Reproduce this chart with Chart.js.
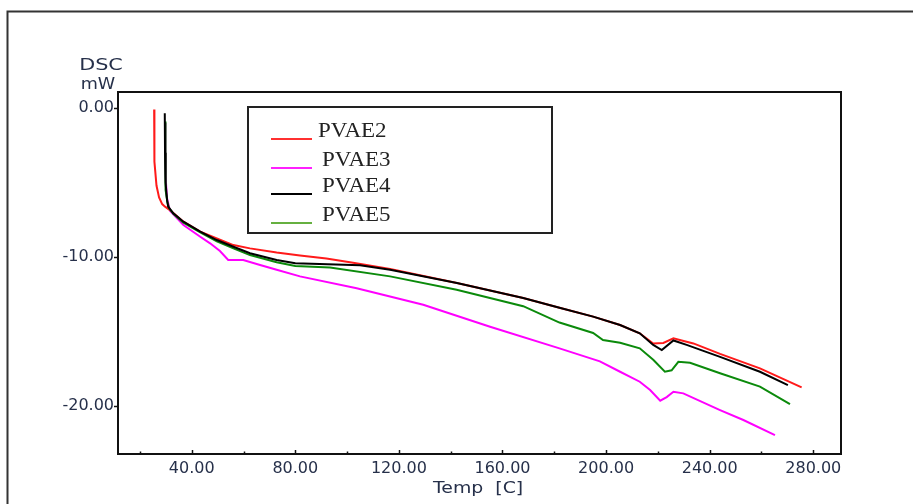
<!DOCTYPE html>
<html>
<head>
<meta charset="utf-8">
<title>DSC PVAE</title>
<script src="https://cdn.jsdelivr.net/npm/chart.js@4.4.1/dist/chart.umd.min.js"></script>
<style>
  html, body { margin: 0; padding: 0; background: #fff; }
  #wrap { width: 913px; height: 504px; position: relative; }
</style>
</head>
<body>
<div id="wrap"><canvas id="dsc" width="913" height="504"></canvas></div>
<script>
// ---------- Data ----------
const seriesNames = ["PVAE2", "PVAE3", "PVAE4", "PVAE5"];

const pvae2Temp = [25.5, 25.6, 26.4, 27.4, 28.6, 29.7, 31.6, 36.8, 43.3, 49.7, 56.1, 62.5, 72.8, 81.8, 92, 102.3, 116.6, 142.4, 168, 182, 195, 205.4, 213, 218.2, 222.1, 226, 229.2, 233.7, 244, 259.4, 275.5];
const pvae2Dsc = [-0.1, -3.6, -5.2, -6.0, -6.45, -6.62, -6.85, -7.63, -8.3, -8.75, -9.2, -9.42, -9.7, -9.9, -10.1, -10.38, -10.8, -11.75, -12.75, -13.4, -14.0, -14.56, -15.12, -15.8, -15.77, -15.46, -15.6, -15.8, -16.5, -17.47, -18.75];

const pvae3Temp = [29.7, 29.9, 30.4, 31.6, 36.8, 43.3, 47.1, 50.9, 54.1, 59.9, 66.4, 72.8, 81.8, 103.7, 129.4, 155.2, 182, 197.6, 205.4, 213, 217, 220.9, 223.4, 226, 229.8, 244, 253, 265.2];
const pvae3Dsc = [-1.0, -4.5, -6.0, -6.9, -7.85, -8.64, -9.08, -9.6, -10.2, -10.2, -10.54, -10.85, -11.3, -12.1, -13.2, -14.68, -16.13, -17.0, -17.7, -18.37, -18.93, -19.64, -19.4, -19.04, -19.15, -20.27, -20.94, -21.95];

const pvae4Temp = [29.6, 29.7, 29.9, 30.5, 30.9, 32.9, 36.8, 43.3, 49.7, 56.1, 62.5, 72.8, 80, 105, 116.6, 142.4, 168, 182, 195, 205.4, 213, 218.2, 221.5, 226, 231.1, 244, 259.4, 270.2];
const pvae4Dsc = [-0.35, -3.0, -5.0, -6.2, -6.62, -7.07, -7.63, -8.3, -8.86, -9.31, -9.75, -10.2, -10.42, -10.55, -10.85, -11.75, -12.75, -13.4, -14.0, -14.56, -15.12, -15.9, -16.24, -15.6, -15.9, -16.7, -17.7, -18.6];

const pvae5Temp = [29.7, 29.8, 30.0, 30.6, 31.2, 32.9, 36.8, 43.3, 49.7, 56.1, 62.5, 72.8, 80, 93.4, 116.6, 142.3, 168, 182, 195, 198.8, 205.4, 213, 218.2, 222.7, 225.3, 227.9, 232.4, 244, 259.4, 271];
const pvae5Dsc = [-0.9, -3.5, -5.5, -6.3, -6.7, -7.1, -7.7, -8.35, -8.95, -9.42, -9.87, -10.35, -10.6, -10.7, -11.3, -12.2, -13.3, -14.4, -15.1, -15.57, -15.75, -16.13, -16.9, -17.7, -17.6, -17.03, -17.1, -17.8, -18.7, -19.87];

const lineColors = ["#ff1a1a", "#ff00ff", "#000000", "#0b8a0b"];
const legendColors = ["#ff3030", "#ff20ff", "#000000", "#66b040"];

const xTickValues = [40, 80, 120, 160, 200, 240, 280];
const xMinorTicks = [20, 60, 100, 140, 180, 220, 260];
const yTickValues = [0, -10, -20];

const X_MIN = 11.54, X_MAX = 290.7;
const Y_MIN = -23.22, Y_MAX = 1.074;

const TEXT_COLOR = "#26304a";

function toPoints(xs, ys) {
  return xs.map((x, i) => ({ x, y: ys[i] }));
}

const allTemps = [pvae2Temp, pvae3Temp, pvae4Temp, pvae5Temp];
const allDsc = [pvae2Dsc, pvae3Dsc, pvae4Dsc, pvae5Dsc];
const drawOrder = [2, 3, 0, 1];

// stretched text, the original export is wider than any installed face
function wideText(ctx, text, x, y, sx, align) {
  const w = ctx.measureText(text).width * sx;
  let left = x;
  if (align === "center") left = x - w / 2;
  ctx.save();
  ctx.textAlign = "left";
  ctx.translate(left, y);
  ctx.scale(sx, 1);
  ctx.fillText(text, 0, 0);
  ctx.restore();
}

// ---------- Extra drawing: frames, tick marks, axis titles, legend ----------
const decorPlugin = {
  id: "decor",
  afterDraw(chart) {
    const { ctx, chartArea: a, scales } = chart;
    ctx.save();

    // outer frame (only left and top visible)
    ctx.strokeStyle = "#333";
    ctx.lineWidth = 2;
    ctx.beginPath();
    ctx.moveTo(7.5, 510);
    ctx.lineTo(7.5, 11.5);
    ctx.lineTo(920, 11.5);
    ctx.stroke();

    // plot box
    ctx.strokeStyle = "#111";
    ctx.lineWidth = 2;
    ctx.strokeRect(a.left, a.top, a.right - a.left, a.bottom - a.top);

    // tick marks
    ctx.lineWidth = 1.5;
    xTickValues.forEach((v) => {
      const px = Math.round(scales.x.getPixelForValue(v)) + 0.5;
      ctx.beginPath();
      ctx.moveTo(px, a.bottom);
      ctx.lineTo(px, a.bottom - 4);
      ctx.stroke();
    });
    xMinorTicks.forEach((v) => {
      const px = Math.round(scales.x.getPixelForValue(v)) + 0.5;
      ctx.beginPath();
      ctx.moveTo(px, a.bottom);
      ctx.lineTo(px, a.bottom - 2.5);
      ctx.stroke();
    });
    yTickValues.forEach((v) => {
      const py = Math.round(scales.y.getPixelForValue(v)) + 0.5;
      ctx.beginPath();
      ctx.moveTo(a.left - 4, py);
      ctx.lineTo(a.left, py);
      ctx.stroke();
    });

    // axis titles
    ctx.fillStyle = TEXT_COLOR;
    ctx.font = "16px 'DejaVu Sans'";
    ctx.textBaseline = "alphabetic";
    wideText(ctx, "DSC", 101, 70, 1.3, "center");
    wideText(ctx, "mW", 98, 89, 1.1, "center");
    wideText(ctx, "Temp  [C]", 433, 493, 1.18, "left");

    // legend box
    const box = { x: 248, y: 107, w: 304, h: 126 };
    ctx.strokeStyle = "#222";
    ctx.lineWidth = 2;
    ctx.strokeRect(box.x, box.y, box.w, box.h);

    const lineYs = [139, 168, 194, 223];
    const textXs = [318, 322, 322, 322];
    const baseYs = [136.5, 166, 192, 220.5];
    ctx.font = "20px 'Liberation Serif'";
    ctx.fillStyle = "#222";
    seriesNames.forEach((name, i) => {
      ctx.strokeStyle = legendColors[i];
      ctx.lineWidth = 2;
      ctx.beginPath();
      ctx.moveTo(271, lineYs[i]);
      ctx.lineTo(312, lineYs[i]);
      ctx.stroke();
      wideText(ctx, name, textXs[i], baseYs[i], 1.15, "left");
    });

    ctx.restore();
  }
};

const datasets = seriesNames.map((name, i) => ({
  label: name,
  data: toPoints(allTemps[i], allDsc[i]),
  borderColor: lineColors[i],
  borderWidth: 2,
  pointRadius: 0,
  tension: 0,
  fill: false,
  order: drawOrder[i]
}));

new Chart(document.getElementById("dsc"), {
  type: "line",
  data: { datasets },
  options: {
    responsive: false,
    animation: false,
    devicePixelRatio: 1,
    layout: { padding: { left: 0, top: 92, right: 72, bottom: 0 } },
    plugins: {
      legend: { display: false },
      tooltip: { enabled: false }
    },
    scales: {
      x: {
        type: "linear",
        min: X_MIN,
        max: X_MAX,
        afterFit: (s) => { s.height = 50; },
        afterBuildTicks: (s) => { s.ticks = xTickValues.map((v) => ({ value: v })); },
        grid: { display: false, drawTicks: false },
        border: { display: false },
        ticks: {
          autoSkip: false,
          maxRotation: 0,
          padding: 5,
          color: TEXT_COLOR,
          font: { family: "DejaVu Sans", size: 16 },
          callback: (v) => Number(v).toFixed(2)
        }
      },
      y: {
        type: "linear",
        min: Y_MIN,
        max: Y_MAX,
        afterFit: (s) => { s.width = 118; },
        afterBuildTicks: (s) => { s.ticks = yTickValues.map((v) => ({ value: v })); },
        grid: { display: false, drawTicks: false },
        border: { display: false },
        ticks: {
          padding: 4,
          color: TEXT_COLOR,
          font: { family: "DejaVu Sans", size: 16 },
          callback: (v) => Number(v).toFixed(2)
        }
      }
    }
  },
  plugins: [decorPlugin]
});
</script>
</body>
</html>
